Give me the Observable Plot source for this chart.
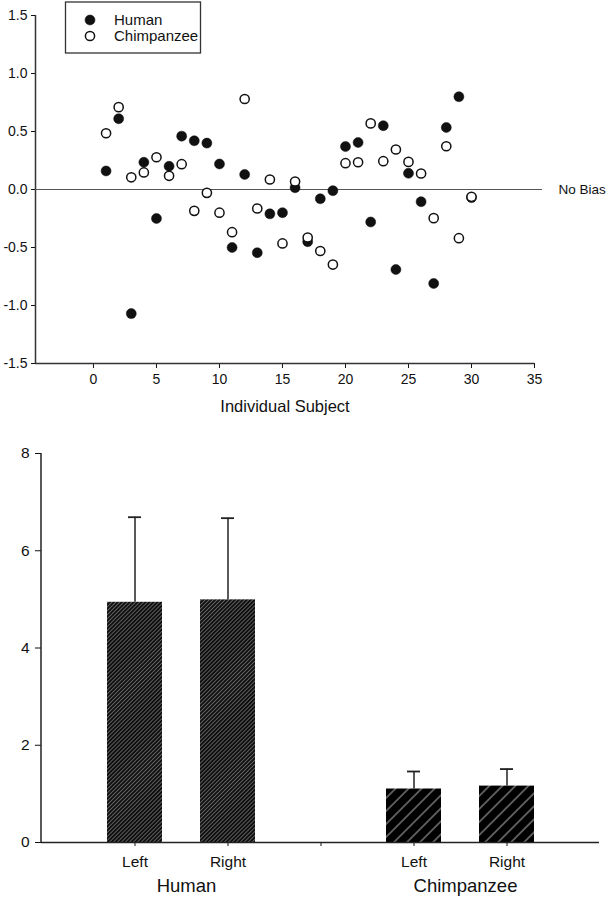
<!DOCTYPE html>
<html>
<head>
<meta charset="utf-8">
<script src="https://cdn.jsdelivr.net/npm/d3@7"></script>
<script src="https://cdn.jsdelivr.net/npm/@observablehq/plot@0.6"></script>
<style>
  html, body { margin: 0; padding: 0; background: white; }
  #wrap { position: relative; width: 608px; height: 900px; font-family: "Liberation Sans", Arial, sans-serif; color: #111; }
  #wrap svg { display: block; }
</style>
</head>
<body>
<div id="wrap"></div>
<script>
// ---------- Top panel data ----------
const subjects = [1,2,3,4,5,6,7,8,9,10,11,12,13,14,15,16,17,18,19,20,21,22,23,24,25,26,27,28,29,30];
const humanBias = [0.16,0.61,-1.07,0.235,-0.25,0.20,0.46,0.42,0.40,0.22,-0.50,0.13,-0.545,-0.21,-0.20,0.015,-0.45,-0.08,-0.01,0.37,0.405,-0.28,0.55,-0.69,0.14,-0.105,-0.81,0.535,0.80,-0.07];
const chimpBias = [0.485,0.71,0.105,0.147,0.278,0.118,0.218,-0.184,-0.029,-0.20,-0.368,0.78,-0.164,0.086,-0.465,0.069,-0.414,-0.53,-0.647,0.227,0.235,0.57,0.244,0.345,0.238,0.138,-0.247,0.373,-0.42,-0.063];
const xDomain = [-4.6, 35];
const xTicks = [0,5,10,15,20,25,30,35];
const yDomain = [-1.5, 1.5];
const yTicks = [-1.5,-1.0,-0.5,0.0,0.5,1.0,1.5];
const noBias = [{label: "No Bias", value: 0}];
const xTitle = ["Individual Subject"];
const seriesNames = ["Human", "Chimpanzee"];

// ---------- Bottom panel data ----------
const groupNames = ["Human", "Chimpanzee"];
const barGroups = ["Human", "Human", "Chimpanzee", "Chimpanzee"];
const barSides = ["Left", "Right", "Left", "Right"];
const barMeans = [4.94, 4.99, 1.10, 1.16];
const barErrTop = [6.69, 6.67, 1.46, 1.51];
const barYTicks = [0, 2, 4, 6, 8];
const barYDomain = [0, 8];
const gapKey = "gap";

const pts = subjects.map((s, i) => ({subject: s, human: humanBias[i], chimp: chimpBias[i]}));
const bars = barGroups.map((g, i) => ({key: g + " " + barSides[i], group: g, side: barSides[i], mean: barMeans[i], err: barErrTop[i]}));
const xKeys = [bars[0].key, bars[1].key, gapKey, bars[2].key, bars[3].key];

const font = "'Liberation Sans', Arial, sans-serif";
const wrap = document.getElementById("wrap");

// ---------- Top chart ----------
const top1 = Plot.plot({
  width: 608, height: 423,
  marginLeft: 35, marginRight: 74, marginTop: 15, marginBottom: 60,
  style: {fontFamily: font, fontSize: "14px", color: "#111", background: "white", overflow: "visible"},
  x: {domain: xDomain, ticks: xTicks, tickSize: 5, tickPadding: 6, label: null},
  y: {domain: yDomain, ticks: yTicks, tickSize: 4, tickPadding: 4, tickFormat: d => d.toFixed(1), label: null},
  marks: [
    Plot.ruleY([yDomain[0]], {stroke: "#333", strokeWidth: 1.5}),
    Plot.ruleX([xDomain[0]], {stroke: "#333", strokeWidth: 1.5}),
    Plot.ruleY(noBias, {y: "value", stroke: "#555", strokeWidth: 1.2, insetRight: -8}),
    Plot.text(noBias, {y: "value", text: "label", frameAnchor: "right", textAnchor: "start", dx: 24, fontSize: 13.5}),
    Plot.dot(pts, {x: "subject", y: "human", r: 5, fill: "#111", stroke: "#111", strokeWidth: 0.5}),
    Plot.dot(pts, {x: "subject", y: "chimp", r: 4.6, fill: "white", stroke: "#111", strokeWidth: 1.5}),
    Plot.text(xTitle, {text: d => d, frameAnchor: "bottom", dy: 48, fontSize: 16.5})
  ]
});
wrap.appendChild(top1);

// legend drawn into the top svg
const tsel = d3.select(top1);
const lg = tsel.append("g").attr("font-family", font).attr("font-size", 15).attr("text-anchor", "start");
lg.append("rect").attr("x", 65.5).attr("y", 2).attr("width", 135).attr("height", 51)
  .attr("fill", "white").attr("stroke", "#333").attr("stroke-width", 1.3);
seriesNames.forEach((name, i) => {
  const cy = 20 + i * 16;
  lg.append("circle").attr("cx", 90).attr("cy", cy).attr("r", i === 0 ? 5 : 4.6)
    .attr("fill", i === 0 ? "#111" : "white").attr("stroke", "#111").attr("stroke-width", i === 0 ? 0.5 : 1.5);
  lg.append("text").attr("x", 114).attr("y", cy).attr("dy", "0.35em").attr("text-anchor", "start")
    .attr("fill", "#111").text(name);
});

// ---------- Bottom chart ----------
const bw = 608, bml = 41, bmr = 9;
const pInner = 0.41, pOuter = 0.705;
const step = (bw - bml - bmr) / (xKeys.length - pInner + 2 * pOuter);

const bottom = Plot.plot({
  width: bw, height: 477,
  marginLeft: bml, marginRight: bmr, marginTop: 30, marginBottom: 58,
  style: {fontFamily: font, fontSize: "15.5px", color: "#111", background: "white", overflow: "visible"},
  x: {type: "band", domain: xKeys, paddingInner: pInner, paddingOuter: pOuter, align: 0.5,
      tickSize: 4, tickPadding: 9, label: null,
      tickFormat: k => k === gapKey ? "" : k.split(" ")[1]},
  y: {domain: barYDomain, ticks: barYTicks, tickSize: 6, tickPadding: 6, label: null},
  marks: [
    Plot.barY(bars.filter(d => d.group === groupNames[0]), {x: "key", y: "mean", fill: "url(#hatchHuman)"}),
    Plot.barY(bars.filter(d => d.group === groupNames[1]), {x: "key", y: "mean", fill: "url(#hatchChimp)"}),
    Plot.ruleX(bars, {x: "key", y1: "mean", y2: "err", stroke: "#222", strokeWidth: 1.5}),
    Plot.tickY(bars, {x: "key", y: "err", stroke: "#222", strokeWidth: 1.8, insetLeft: 21, insetRight: 21}),
    Plot.ruleY([barYDomain[0]], {stroke: "#222", strokeWidth: 1.5}),
    Plot.text(groupNames, {x: g => g + " Left", text: d => d, frameAnchor: "bottom", dx: step / 2 + 5, dy: 49, fontSize: 18.5})
  ]
});
wrap.appendChild(bottom);

// hatch patterns and y-axis line
const bsel = d3.select(bottom);
const defs = bsel.insert("defs", ":first-child");
const p1 = defs.append("pattern").attr("id", "hatchHuman").attr("patternUnits", "userSpaceOnUse")
  .attr("width", 2.8).attr("height", 2.8).attr("patternTransform", "rotate(45)");
p1.append("rect").attr("width", 2.8).attr("height", 2.8).attr("fill", "#0e0e0e");
p1.append("line").attr("x1", 1.4).attr("y1", 0).attr("x2", 1.4).attr("y2", 2.8).attr("stroke", "#7a7a7a").attr("stroke-width", 0.75);
const p2 = defs.append("pattern").attr("id", "hatchChimp").attr("patternUnits", "userSpaceOnUse")
  .attr("width", 9.2).attr("height", 9.2).attr("patternTransform", "rotate(45)");
p2.append("rect").attr("width", 9.2).attr("height", 9.2).attr("fill", "#000");
p2.append("line").attr("x1", 4.6).attr("y1", 0).attr("x2", 4.6).attr("y2", 9.2).attr("stroke", "#c4c4c4").attr("stroke-width", 0.9);
bsel.append("line").attr("x1", bml).attr("x2", bml).attr("y1", 30).attr("y2", 477 - 58)
  .attr("stroke", "#222").attr("stroke-width", 1.5);
</script>
</body>
</html>
